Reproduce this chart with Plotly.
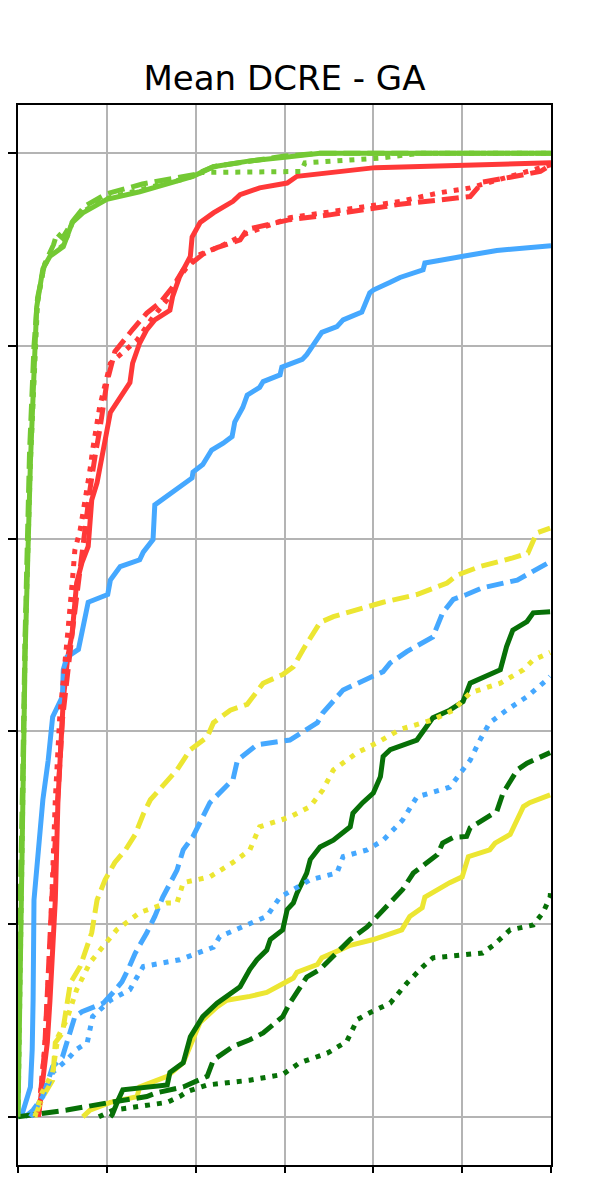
import plotly.graph_objects as go

# ---------------- data (x: error scale 0..6, y: cumulative fraction) ----------------
# light green
lg_solid_x = [0, 0.03, 0.05, 0.08, 0.14, 0.19, 0.21, 0.28, 0.36, 0.51, 0.61, 0.73, 1.0, 1.37, 1.97, 2.2, 2.61, 3.03, 3.4, 6.0]
lg_solid_y = [0, 0.2, 0.33, 0.48, 0.68, 0.80, 0.84, 0.88, 0.893, 0.903, 0.928, 0.938, 0.952, 0.96, 0.976, 0.986, 0.992, 0.996, 1.0, 1.0]
lg_dash_x = [0, 0.02, 0.05, 0.08, 0.13, 0.18, 0.22, 0.30, 0.40, 0.44, 0.50, 0.62, 0.75, 1.0, 1.4, 1.8, 2.0, 2.2, 2.6, 3.0, 3.4, 6.0]
lg_dash_y = [0, 0.2, 0.34, 0.50, 0.69, 0.80, 0.85, 0.885, 0.905, 0.917, 0.912, 0.93, 0.945, 0.958, 0.968, 0.975, 0.978, 0.986, 0.992, 0.997, 1.0, 1.0]
lg_dot_x = [0, 0.03, 0.05, 0.08, 0.14, 0.19, 0.22, 0.29, 0.37, 0.52, 0.62, 0.74, 1.0, 1.37, 1.9, 2.07, 2.6, 3.19, 3.23, 4.08, 4.53, 6.0]
lg_dot_y = [0, 0.2, 0.33, 0.49, 0.68, 0.80, 0.845, 0.882, 0.895, 0.905, 0.93, 0.94, 0.953, 0.962, 0.974, 0.98, 0.98, 0.981, 0.99, 0.995, 1.0, 1.0]

# red
red_solid_x = [0.23, 0.27, 0.33, 0.36, 0.42, 0.45, 0.51, 0.56, 0.61, 0.66, 0.72, 0.79, 0.83, 0.89, 0.96, 1.04, 1.26, 1.29, 1.37, 1.45,
               1.54, 1.71, 1.74, 1.82, 1.94, 1.96, 2.05, 2.20, 2.42, 2.50, 2.72, 3.03, 3.14, 4.02, 6.0]
red_solid_y = [0, 0.031, 0.077, 0.121, 0.225, 0.329, 0.433, 0.477, 0.502, 0.554, 0.575, 0.592, 0.640, 0.658, 0.692, 0.731, 0.762, 0.782, 0.803, 0.817,
               0.827, 0.837, 0.851, 0.872, 0.893, 0.913, 0.928, 0.938, 0.950, 0.957, 0.964, 0.969, 0.976, 0.985, 0.990]
red_dash_x = [0.23, 0.30, 0.38, 0.44, 0.50, 0.61, 0.70, 0.75, 0.81, 0.87, 0.92, 1.0, 1.04, 1.09, 1.29, 1.45, 1.60, 1.74, 1.86, 1.97,
              2.08, 2.24, 2.50, 2.58, 2.80, 3.06, 3.51, 4.30, 5.09, 5.23, 5.54, 5.88, 6.0]
red_dash_y = [0, 0.070, 0.225, 0.329, 0.412, 0.502, 0.573, 0.606, 0.651, 0.687, 0.713, 0.762, 0.775, 0.794, 0.817, 0.834, 0.845, 0.861, 0.879, 0.887,
              0.895, 0.902, 0.910, 0.921, 0.926, 0.931, 0.936, 0.947, 0.955, 0.970, 0.975, 0.981, 0.988]
red_dot_x = [0.23, 0.30, 0.36, 0.42, 0.47, 0.53, 0.56, 0.61, 0.64, 0.70, 0.78, 0.81, 0.84, 0.92, 1.04, 1.18, 1.34, 1.52, 1.68, 1.82,
             1.94, 2.05, 2.27, 2.58, 2.80, 3.06, 3.51, 4.30, 4.75, 5.09, 5.43, 5.84, 6.0]
red_dot_y = [0, 0.070, 0.173, 0.329, 0.415, 0.467, 0.502, 0.554, 0.588, 0.609, 0.651, 0.671, 0.692, 0.737, 0.782, 0.793, 0.806, 0.830, 0.848, 0.872,
             0.886, 0.895, 0.903, 0.917, 0.924, 0.933, 0.939, 0.950, 0.959, 0.964, 0.973, 0.983, 0.988]

# blue
blue_solid_x = [0, 0.05, 0.14, 0.16, 0.17, 0.18, 0.28, 0.34, 0.39, 0.50, 0.51, 0.55, 0.68, 0.72, 0.79, 1.01, 1.04, 1.15, 1.37, 1.41,
                1.52, 1.54, 1.74, 1.96, 1.97, 2.08, 2.18, 2.31, 2.41, 2.44, 2.53, 2.58, 2.72, 2.76, 2.95, 2.97, 3.20, 3.25, 3.42, 3.59,
                3.66, 3.87, 3.96, 4.00, 4.19, 4.30, 4.56, 4.58, 5.01, 5.39, 6.0]
blue_solid_y = [0, 0.004, 0.031, 0.070, 0.121, 0.225, 0.329, 0.370, 0.415, 0.436, 0.464, 0.477, 0.485, 0.505, 0.534, 0.542, 0.557, 0.571, 0.578, 0.586,
                0.599, 0.635, 0.649, 0.663, 0.669, 0.677, 0.692, 0.699, 0.706, 0.721, 0.736, 0.749, 0.757, 0.763, 0.770, 0.778, 0.786, 0.791, 0.814, 0.820,
                0.827, 0.835, 0.855, 0.858, 0.866, 0.871, 0.879, 0.886, 0.893, 0.899, 0.904]
blue_dash_x = [0.08, 0.17, 0.28, 0.39, 0.50, 0.59, 0.64, 0.72, 0.96, 1.07, 1.17, 1.24, 1.32, 1.45, 1.54, 1.63, 1.79, 1.86, 1.97, 2.16,
               2.42, 2.47, 2.69, 3.06, 3.37, 3.43, 3.66, 4.11, 4.19, 4.38, 4.67, 4.78, 4.90, 5.05, 5.23, 5.62, 5.99]
blue_dash_y = [0, 0.007, 0.021, 0.052, 0.062, 0.090, 0.104, 0.109, 0.118, 0.129, 0.140, 0.153, 0.170, 0.191, 0.208, 0.228, 0.256, 0.277, 0.291, 0.326,
               0.350, 0.370, 0.386, 0.391, 0.409, 0.419, 0.443, 0.462, 0.471, 0.483, 0.498, 0.523, 0.537, 0.542, 0.549, 0.557, 0.576]
blue_dot_x = [0.14, 0.21, 0.33, 0.39, 0.55, 0.66, 0.78, 0.84, 1.04, 1.26, 1.34, 1.41, 1.82, 2.20, 2.27, 2.61, 2.80, 2.95, 3.29, 3.59,
              3.66, 3.93, 4.11, 4.33, 4.49, 4.86, 5.09, 5.20, 5.31, 5.50, 5.73, 5.96, 5.99]
blue_dot_y = [0, 0.010, 0.031, 0.046, 0.059, 0.070, 0.077, 0.104, 0.121, 0.132, 0.145, 0.156, 0.163, 0.176, 0.187, 0.201, 0.208, 0.228, 0.246, 0.253,
              0.270, 0.277, 0.287, 0.308, 0.332, 0.342, 0.370, 0.391, 0.409, 0.422, 0.436, 0.454, 0.457]

# yellow
yel_solid_x = [0.73, 0.81, 1.04, 1.34, 1.37, 1.68, 1.86, 1.94, 2.05, 2.24, 2.35, 2.61, 2.80, 3.10, 3.14, 3.37, 3.42, 3.62, 3.74, 4.00,
               4.32, 4.41, 4.55, 4.58, 4.86, 5.00, 5.07, 5.31, 5.37, 5.54, 5.69, 5.76, 5.99]
yel_solid_y = [0, 0.007, 0.015, 0.021, 0.031, 0.042, 0.056, 0.075, 0.098, 0.114, 0.121, 0.125, 0.129, 0.144, 0.150, 0.158, 0.165, 0.173, 0.178, 0.184,
               0.194, 0.208, 0.217, 0.228, 0.243, 0.249, 0.270, 0.277, 0.284, 0.293, 0.322, 0.326, 0.334]
yel_dash_x = [0.19, 0.21, 0.28, 0.39, 0.42, 0.50, 0.55, 0.59, 0.70, 0.79, 0.83, 0.89, 0.98, 1.09, 1.21, 1.32, 1.41, 1.49, 1.79, 1.94,
              2.13, 2.20, 2.39, 2.58, 2.76, 2.98, 3.10, 3.21, 3.40, 3.55, 4.11, 4.49, 4.83, 4.94, 5.20, 5.57, 5.74, 5.84, 5.99]
yel_dash_y = [0, 0.004, 0.021, 0.038, 0.077, 0.087, 0.121, 0.139, 0.156, 0.181, 0.191, 0.225, 0.246, 0.264, 0.277, 0.293, 0.314, 0.329, 0.360, 0.381,
              0.394, 0.409, 0.422, 0.428, 0.450, 0.459, 0.467, 0.485, 0.513, 0.519, 0.534, 0.542, 0.554, 0.562, 0.571, 0.580, 0.585, 0.606, 0.611]
yel_dot_x = [0.19, 0.21, 0.27, 0.39, 0.45, 0.55, 0.66, 0.81, 1.0, 1.11, 1.37, 1.68, 1.79, 1.86, 2.16, 2.42, 2.61, 2.72, 3.06, 3.29,
             3.43, 3.55, 3.82, 4.04, 4.30, 4.67, 4.90, 5.09, 5.43, 5.69, 5.80, 5.99]
yel_dot_y = [0, 0.007, 0.025, 0.046, 0.083, 0.101, 0.132, 0.160, 0.181, 0.194, 0.212, 0.222, 0.222, 0.243, 0.249, 0.264, 0.277, 0.301, 0.311, 0.322,
             0.339, 0.360, 0.378, 0.388, 0.402, 0.412, 0.422, 0.440, 0.450, 0.464, 0.474, 0.482]

# dark green
dg_solid_x = [1.04, 1.06, 1.13, 1.18, 1.68, 1.71, 1.86, 1.94, 2.08, 2.24, 2.50, 2.61, 2.69, 2.80, 2.84, 2.98, 3.03, 3.10, 3.14, 3.21,
              3.25, 3.29, 3.40, 3.55, 3.74, 3.77, 3.88, 4.00, 4.08, 4.11, 4.19, 4.49, 4.60, 4.67, 4.86, 5.01, 5.09, 5.43, 5.50, 5.57,
              5.73, 5.80, 5.99]
dg_solid_y = [0, 0.002, 0.018, 0.028, 0.033, 0.046, 0.056, 0.083, 0.104, 0.118, 0.135, 0.153, 0.163, 0.173, 0.184, 0.194, 0.215, 0.222, 0.232, 0.246,
              0.253, 0.267, 0.280, 0.287, 0.301, 0.315, 0.326, 0.336, 0.353, 0.374, 0.381, 0.391, 0.405, 0.414, 0.422, 0.431, 0.450, 0.464, 0.488, 0.505,
              0.514, 0.523, 0.524]
dg_dash_x = [0, 0.55, 1.04, 1.45, 1.56, 1.86, 2.13, 2.20, 2.42, 2.61, 2.76, 2.98, 3.06, 3.17, 3.25, 3.40, 3.48, 3.66, 3.74, 3.93,
             4.11, 4.33, 4.45, 4.72, 4.78, 4.90, 5.05, 5.09, 5.39, 5.46, 5.50, 5.62, 5.73, 5.99]
dg_dash_y = [0, 0.007, 0.015, 0.021, 0.025, 0.031, 0.042, 0.059, 0.073, 0.080, 0.087, 0.104, 0.118, 0.135, 0.145, 0.153, 0.160, 0.176, 0.184, 0.197,
             0.215, 0.236, 0.253, 0.272, 0.284, 0.290, 0.291, 0.300, 0.317, 0.336, 0.342, 0.360, 0.367, 0.378]
dg_dot_x = [0.91, 1.07, 1.23, 1.68, 1.82, 1.90, 2.13, 2.42, 2.61, 2.98, 3.17, 3.48, 3.70, 3.82, 3.96, 4.19, 4.38, 4.56, 4.67, 5.23,
            5.35, 5.54, 5.80, 5.91, 5.99, 6.0]
dg_dot_y = [0, 0.007, 0.009, 0.015, 0.021, 0.026, 0.033, 0.036, 0.038, 0.044, 0.056, 0.066, 0.078, 0.101, 0.108, 0.118, 0.139, 0.156, 0.165, 0.170,
            0.178, 0.194, 0.199, 0.212, 0.228, 0.239]

x_ticks = [0, 1, 2, 3, 4, 5, 6]
y_ticks = [0, 0.2, 0.4, 0.6, 0.8, 1.0]
title_text = "Mean DCRE - GA"

# ---------------- styling ----------------
C_LG = "#74c934"
C_RED = "#ff3838"
C_BLUE = "#45a8ff"
C_YEL = "#ece632"
C_DG = "#077007"
DASH = "17px,7px"
DOT = "5px,7px"
LW = 5

series = [
    (lg_solid_x, lg_solid_y, C_LG, "solid"),
    (red_solid_x, red_solid_y, C_RED, "solid"),
    (blue_solid_x, blue_solid_y, C_BLUE, "solid"),
    (yel_solid_x, yel_solid_y, C_YEL, "solid"),
    (dg_solid_x, dg_solid_y, C_DG, "solid"),
    (lg_dash_x, lg_dash_y, C_LG, DASH),
    (red_dash_x, red_dash_y, C_RED, DASH),
    (blue_dash_x, blue_dash_y, C_BLUE, DASH),
    (yel_dash_x, yel_dash_y, C_YEL, DASH),
    (dg_dash_x, dg_dash_y, C_DG, DASH),
    (lg_dot_x, lg_dot_y, C_LG, DOT),
    (red_dot_x, red_dot_y, C_RED, DOT),
    (blue_dot_x, blue_dot_y, C_BLUE, DOT),
    (yel_dot_x, yel_dot_y, C_YEL, DOT),
    (dg_dot_x, dg_dot_y, C_DG, DOT),
]

fig = go.Figure()
for xs, ys, col, dash in series:
    fig.add_trace(go.Scatter(x=xs, y=ys, mode="lines",
                             line=dict(color=col, width=LW, dash=dash),
                             showlegend=False, hoverinfo="skip"))

axis_common = dict(showline=True, mirror=True, linecolor="black", linewidth=2,
                   showgrid=True, gridcolor="#b4b4b4", gridwidth=1.6,
                   zeroline=False, showticklabels=False, automargin=False,
                   ticks="outside", ticklen=8, tickwidth=2, tickcolor="black")

fig.update_xaxes(range=[0, 6], tickvals=x_ticks, **axis_common)
fig.update_yaxes(range=[-0.05, 1.05], tickvals=y_ticks, **axis_common)

# the page body adds an 8px margin, so the figure is sized to fill the window exactly
FIG_W, FIG_H = 582, 1165
fig.update_layout(
    width=FIG_W, height=FIG_H,
    margin=dict(l=10, r=39, t=97, b=8, autoexpand=False),
    plot_bgcolor="white", paper_bgcolor="white",
    title=dict(text=title_text, x=0.5, xref="paper", xanchor="center",
               y=1 - 70 / FIG_H, yref="container", yanchor="middle",
               font=dict(family="DejaVu Sans", size=34, color="black")),
)

fig.write_html("out.html", config={"displayModeBar": False})
